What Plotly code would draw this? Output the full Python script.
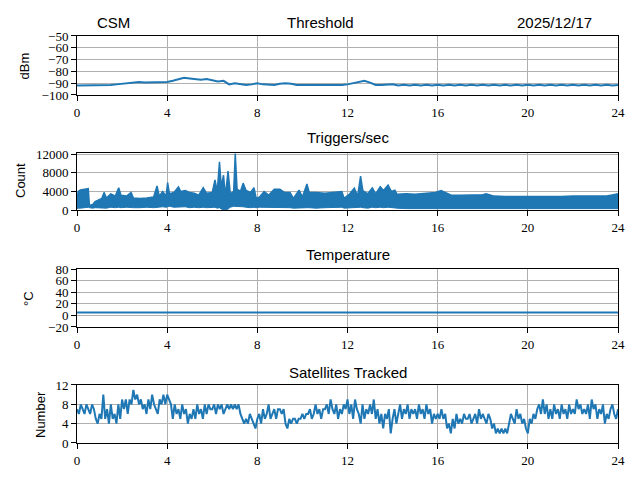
import plotly.graph_objects as go

# -- Data ---------------------------------------------------------------------
STATION = "CSM"
DAY     = "2025/12/17"

# Threshold (dBm), sampled every 15 min
THR_STEP = 0.25
THR_DBM = [
    -92.0, -92.0, -91.5, -91.5, -91.5, -91.5, -91.5, -91.0,
    -90.5, -89.5, -89.0, -89.0, -89.5, -89.5, -89.5, -89.5,
    -89.0, -88.0, -86.5, -85.5, -86.0, -86.5, -87.0, -86.5,
    -87.5, -88.5, -88.0, -91.0, -90.0, -90.5, -91.5, -91.0,
    -90.0, -91.0, -91.5, -91.5, -90.5, -90.0, -90.5, -91.5,
    -91.5, -91.5, -92.0, -92.0, -92.0, -92.0, -92.0, -91.5,
    -91.0, -90.0, -89.0, -88.0, -89.5, -91.5, -91.5, -91.5,
    -91.0, -92.0, -91.4, -92.0, -91.4, -92.0, -91.4, -92.0,
    -91.4, -92.0, -91.4, -92.0, -91.4, -92.0, -91.4, -92.0,
    -91.4, -92.0, -91.4, -92.0, -91.4, -92.0, -91.4, -92.0,
    -91.4, -92.0, -91.4, -92.0, -91.4, -92.0, -91.4, -92.0,
    -91.4, -92.0, -91.4, -92.0, -91.4, -92.0, -91.4, -92.0,
    -91.5,
]

# Triggers/sec: upper and lower edge of the dense trace
TRIG_HR = [
    0.0, 0.05, 0.15, 0.3, 0.45, 0.5, 0.55, 0.7, 0.8, 0.95,
    1.1, 1.2, 1.3, 1.5, 1.7, 1.85, 1.95, 2.2, 2.4, 2.5,
    2.8, 3.1, 3.4, 3.55, 3.65, 3.8, 3.95, 4.02, 4.1, 4.3,
    4.5, 4.6, 4.8, 5.0, 5.2, 5.4, 5.6, 5.75, 6.0, 6.12,
    6.22, 6.32, 6.4, 6.5, 6.58, 6.7, 6.8, 6.95, 7.02, 7.1,
    7.25, 7.37, 7.5, 7.7, 7.85, 7.95, 8.1, 8.3, 8.5, 8.75,
    9.0, 9.2, 9.45, 9.6, 9.85, 10.0, 10.2, 10.3, 10.6, 11.0,
    11.5, 11.75, 11.85, 12.1, 12.3, 12.45, 12.58, 12.68, 12.9, 13.1,
    13.25, 13.45, 13.6, 13.8, 13.95, 14.1, 14.2, 14.6, 15.0, 15.5,
    15.9, 16.15, 16.4, 16.6, 17.0, 17.5, 18.0, 18.15, 18.5, 19.0,
    19.5, 20.0, 20.5, 21.0, 21.5, 22.0, 22.5, 23.0, 23.5, 23.8,
    24.0,
]
TRIG_HI = [
    2000, 4000, 4300, 4500, 4600, 4600, 1000, 1200, 1800, 2200,
    2500, 3800, 2600, 3500, 3000, 4800, 3200, 3000, 3800, 2600,
    2500, 2600, 2800, 5200, 3000, 4000, 3000, 5900, 3500, 3800,
    5000, 4000, 4200, 3800, 3600, 3200, 4800, 3600, 3800, 6500,
    4000, 10400, 5000, 7500, 3000, 8400, 3500, 4000, 12200, 4500,
    4000, 5800, 4200, 3800, 4800, 2500, 2800, 4000, 3200, 4500,
    4500, 3800, 3800, 2500, 4300, 2800, 5600, 3800, 3800, 3600,
    3800, 4000, 2500, 3500, 4700, 3000, 7300, 4200, 3500, 4800,
    3500, 5000, 4200, 5400, 4000, 4300, 3400, 3500, 3400, 3600,
    3800, 4200, 3700, 3200, 3200, 3200, 3300, 3500, 3000, 2900,
    2900, 2800, 2800, 2800, 2900, 3000, 3000, 3000, 3000, 3300,
    3500,
]
TRIG_LO = [
    300, 400, 400, 500, 500, 600, 500, 400, 500, 500,
    400, 500, 400, 600, 500, 600, 500, 600, 500, 500,
    500, 600, 500, 600, 600, 700, 600, 700, 800, 600,
    700, 600, 700, 500, 600, 500, 600, 500, 500, 600,
    400, 500, 200, 0, 0, 200, 600, 800, 800, 700,
    700, 700, 600, 500, 600, 500, 600, 600, 500, 600,
    500, 600, 500, 400, 500, 400, 500, 500, 400, 500,
    500, 600, 400, 500, 600, 500, 600, 500, 400, 600,
    500, 600, 500, 600, 500, 500, 400, 300, 300, 300,
    300, 300, 300, 300, 300, 300, 300, 300, 300, 300,
    300, 300, 300, 300, 300, 300, 300, 300, 300, 300,
    300,
]

# Temperature (degC), hourly
TEMP_C = [4.8] * 25

# Satellites tracked, every 5 min (one row per hour)
SAT_STEP = 1 / 12
SAT_N = [
    7, 6, 8, 7, 6, 8, 7, 6, 8, 7, 5, 4,
    6, 5, 10, 5, 7, 4, 8, 5, 6, 4, 8, 5,
    9, 7, 9, 6, 9, 8, 11, 9, 10, 8, 9, 7,
    8, 6, 9, 7, 10, 8, 7, 6, 9, 8, 10, 8,
    10, 9, 8, 5, 8, 6, 7, 5, 8, 6, 7, 4,
    6, 5, 7, 5, 8, 6, 7, 5, 8, 6, 8, 7,
    7, 8, 6, 8, 7, 8, 6, 7, 8, 7, 8, 7,
    8, 7, 8, 6, 5, 4, 5, 4, 6, 5, 4, 3,
    5, 6, 4, 7, 5, 6, 8, 5, 6, 7, 5, 7,
    7, 6, 7, 4, 3, 5, 4, 5, 5, 4, 5, 5,
    6, 5, 6, 6, 7, 5, 6, 8, 6, 7, 5, 7,
    7, 8, 6, 9, 7, 6, 8, 5, 7, 6, 8, 7,
    9, 6, 8, 5, 9, 7, 6, 4, 8, 5, 7, 6,
    8, 6, 9, 5, 7, 4, 6, 3, 6, 5, 7, 2,
    5, 7, 4, 6, 8, 5, 7, 6, 8, 5, 7, 6,
    7, 5, 8, 6, 7, 5, 8, 6, 7, 4, 6, 5,
    6, 5, 7, 5, 6, 3, 4, 2, 5, 3, 6, 4,
    5, 4, 6, 5, 5, 6, 4, 5, 6, 4, 7, 5,
    6, 5, 4, 6, 5, 3, 4, 2, 3, 2, 3, 2,
    3, 2, 4, 6, 5, 4, 7, 5, 6, 4, 5, 3,
    2, 5, 4, 6, 5, 7, 8, 6, 9, 6, 8, 5,
    7, 5, 8, 6, 7, 5, 8, 6, 7, 5, 8, 6,
    7, 6, 9, 7, 8, 6, 7, 6, 8, 5, 9, 7,
    8, 5, 7, 6, 8, 4, 6, 5, 7, 8, 6, 5,
    7,
]

HOUR_TICKS = [0, 4, 8, 12, 16, 20, 24]
THR_TICKS  = [-100, -90, -80, -70, -60, -50]
TRIG_TICKS = [0, 4000, 8000, 12000]
TEMP_TICKS = [-20, 0, 20, 40, 60, 80]
SAT_TICKS  = [0, 4, 8, 12]

# -- Style --------------------------------------------------------------------
BLUE  = "#1f77b4"
GRID  = "#b0b0b0"
SERIF = "Liberation Serif"
SANS  = "Liberation Sans"

# page body has an 8px margin, so the figure is 8px smaller each way
W, H = 632, 472
X_DOM = [0.1092, 0.9652]
Y_DOMS = [[0.8157, 0.9407], [0.5720, 0.6928], [0.3242, 0.4470], [0.0784, 0.2013]]

fig = go.Figure()

line = dict(color=BLUE, width=2)
fig.add_trace(go.Scatter(x=[i * THR_STEP for i in range(len(THR_DBM))], y=THR_DBM,
                         mode="lines", line=line, xaxis="x", yaxis="y"))
fig.add_trace(go.Scatter(x=TRIG_HR, y=TRIG_LO, mode="lines",
                         line=dict(color=BLUE, width=1), xaxis="x2", yaxis="y2"))
fig.add_trace(go.Scatter(x=TRIG_HR, y=TRIG_HI, mode="lines", fill="tonexty",
                         fillcolor=BLUE, line=dict(color=BLUE, width=1.5),
                         xaxis="x2", yaxis="y2"))
fig.add_trace(go.Scatter(x=list(range(len(TEMP_C))), y=TEMP_C, mode="lines",
                         line=line, xaxis="x3", yaxis="y3"))
fig.add_trace(go.Scatter(x=[i * SAT_STEP for i in range(len(SAT_N))], y=SAT_N,
                         mode="lines", line=line, xaxis="x4", yaxis="y4"))

axis_common = dict(showline=True, mirror=True, linecolor="black", linewidth=1,
                   ticks="outside", ticklen=5, tickcolor="black", tickwidth=1,
                   showgrid=True, gridcolor=GRID, gridwidth=1, zeroline=False,
                   automargin=False, tickformat="d",
                   tickfont=dict(family=SERIF, size=13, color="black"))

y_specs = [([-100, -50], THR_TICKS), ([0, 12300], TRIG_TICKS),
           ([-20, 80], TEMP_TICKS), ([0, 12], SAT_TICKS)]

layout = dict(
    width=W, height=H, showlegend=False,
    paper_bgcolor="white", plot_bgcolor="white",
    margin=dict(l=0, r=0, t=0, b=0),
)
for i, (yr, yt) in enumerate(y_specs):
    n = "" if i == 0 else str(i + 1)
    layout["xaxis" + n] = dict(axis_common, domain=X_DOM, range=[0, 24],
                               tickvals=HOUR_TICKS, anchor="y" + n)
    layout["yaxis" + n] = dict(axis_common, domain=Y_DOMS[i], range=yr,
                               tickvals=yt, anchor="x" + n)
fig.update_layout(**layout)

# Titles and labels
x_mid = (X_DOM[0] + X_DOM[1]) / 2
notes = [
    (STATION, 0.1677, 0.9703, 0, 15),
    ("Threshold", 0.4937, 0.9703, 0, 15),
    (DAY, 0.8655, 0.9703, 0, 15),
    ("Triggers/sec", x_mid, 0.7246, 0, 15),
    ("Temperature", x_mid, 0.4788, 0, 15),
    ("Satellites Tracked", x_mid, 0.2288, 0, 15),
    ("dBm", 0.0253, 0.8782, -90, 13),
    ("Count", 0.0206, 0.6335, -90, 13),
    ("°C", 0.0332, 0.3856, -90, 13),
    ("Number", 0.0506, 0.1398, -90, 13),
]
for text, x, y, ang, size in notes:
    fig.add_annotation(text=text, x=x, y=y, xref="paper", yref="paper",
                       showarrow=False, textangle=ang, xanchor="center",
                       yanchor="middle",
                       font=dict(family=SANS, size=size, color="black"))

fig.write_html("out.html")
